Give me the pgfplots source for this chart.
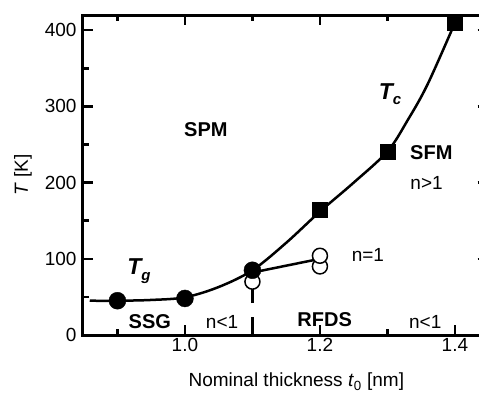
\documentclass[border=0pt]{standalone}
\usepackage{fontspec}
\setmainfont{Liberation Sans}
\usepackage{pgfplots}
\pgfplotsset{compat=1.18}
\begin{document}
\fontsize{19}{22}\selectfont
\begin{tikzpicture}
\begin{axis}[
  at={(0pt,0pt)}, anchor=south west,
  scale only axis, width=425pt, height=320pt,
  xmin=0.849, xmax=1.4786, ymin=0, ymax=420,
  axis line style={line width=3pt},
  xtick={1.0,1.2,1.4}, xticklabels={1.0,1.2,1.4},
  minor xtick={0.9,1.1,1.3},
  ytick={0,100,200,300,400}, minor ytick={50,150,250,350},
  tick align=inside,
  major tick length=10pt, minor tick length=6pt,
  tick style={line width=2.5pt, black},
  tick label style={font=\fontsize{19}{22}\selectfont},
  xticklabel style={yshift=3pt},
  /pgf/number format/assume math mode=true,
  xlabel={Nominal thickness \textit{t}\textsubscript{0} [nm]},
  xlabel style={at={(axis cs:1.165,0)}, anchor=center, yshift=-47pt, font=\fontsize{19}{22}\selectfont},
  ylabel={\textit{T} [K]},
  ylabel style={at={(rel axis cs:0,0.5)}, anchor=center, yshift=60pt, font=\fontsize{19}{22}\selectfont},
  unbounded coords=jump,
  clip=false,
]
% fitted curve
\addplot[black, line width=2.5pt, smooth, tension=0.55] coordinates {
 (0.859,45) (0.9,45) (0.95,46) (1.0,49.5) (1.05,63) (1.1,85) (1.15,121)
 (1.2,162) (1.25,200) (1.3,241) (1.33,282) (1.36,330) (1.404,418)
};
% RFDS line
\addplot[black, line width=2.5pt] coordinates {(1.1,82) (1.2,100)};
% vertical bar at 1.1
\addplot[black, line width=2.5pt] coordinates {(1.1,0) (1.1,24)};
\addplot[black, line width=2.5pt] coordinates {(1.1,42) (1.1,62)};
% right-hand tick stubs (the right spine lies beyond the picture)
\addplot[black, line width=2.5pt] coordinates {
 (1.4335,100) (1.4385,100) (nan,nan)
 (1.4335,200) (1.4385,200) (nan,nan)
 (1.4335,300) (1.4385,300) (nan,nan)
 (1.4335,400) (1.4385,400)
};
% open circles
\addplot[only marks, mark=*, mark size=7.5pt, mark options={fill=white, draw=black, line width=1.5pt}] coordinates {
 (1.1,70) (1.2,90) (1.2,104)
};
% filled circles Tg
\addplot[only marks, mark=*, mark size=8.5pt, black] coordinates {
 (0.9,45) (1.0,48) (1.1,85)
};
% squares Tc
\addplot[only marks, mark=square*, mark size=7.5pt, black] coordinates {
 (1.2,164) (1.3,241) (1.4,410)
};
\node[font=\bfseries\fontsize{20}{22}\selectfont] at (axis cs:1.031,269) {SPM};
\node[font=\bfseries\fontsize{20}{22}\selectfont] at (axis cs:1.365,240) {SFM};
\node[font=\fontsize{19}{22}\selectfont] at (axis cs:1.358,199) {n>1};
\node[font=\fontsize{19}{22}\selectfont] at (axis cs:1.271,105) {n=1};
\node[font=\bfseries\fontsize{20}{22}\selectfont] at (axis cs:0.948,17) {SSG};
\node[font=\fontsize{19}{22}\selectfont] at (axis cs:1.055,17) {n<1};
\node[font=\bfseries\fontsize{20}{22}\selectfont] at (axis cs:1.207,20) {RFDS};
\node[font=\fontsize{19}{22}\selectfont] at (axis cs:1.356,17) {n<1};
\node[font=\bfseries\itshape\fontsize{23}{24}\selectfont] at (axis cs:1.304,316) {T\raisebox{-0.45ex}{\fontsize{15}{16}\selectfont c}};
\node[font=\bfseries\itshape\fontsize{23}{24}\selectfont] at (axis cs:0.932,84) {T\raisebox{-0.45ex}{\fontsize{15}{16}\selectfont g}};
\end{axis}
\pgfresetboundingbox
\path[use as bounding box] (-83pt,-57pt) rectangle (396pt,335pt);
\end{tikzpicture}
\end{document}
